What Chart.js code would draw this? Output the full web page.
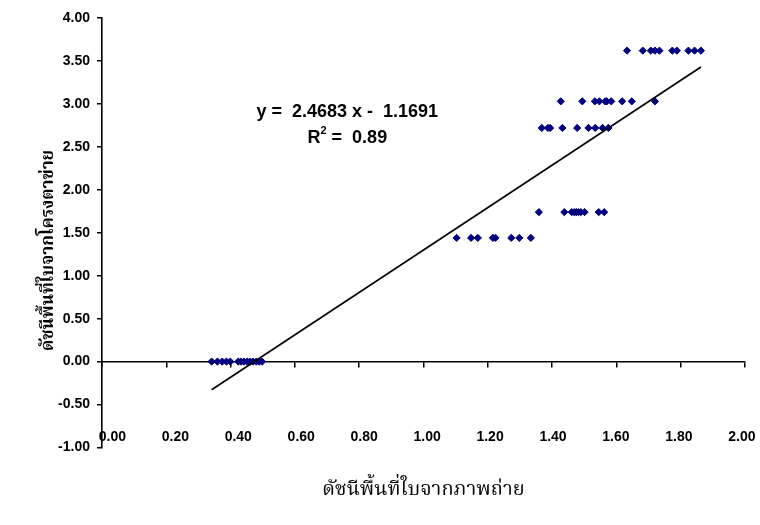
<!DOCTYPE html>
<html>
<head>
<meta charset="utf-8">
<script src="https://cdn.jsdelivr.net/npm/chart.js@4.4.1/dist/chart.umd.min.js"></script>
<style>
  html, body { margin: 0; padding: 0; background: #fff; }
  #wrap { width: 760px; height: 525px; }
</style>
</head>
<body>
<div id="wrap"><canvas id="chart" width="760" height="525"></canvas></div>
<script>
// ----------------------------------------------------------
// DATA (x = LAI from photo, y = LAI from grid, grouped by y level)
// ----------------------------------------------------------
const level0X   = [0.341, 0.359, 0.374, 0.387, 0.399, 0.424, 0.433, 0.442, 0.452, 0.461, 0.470, 0.480, 0.489, 0.498];
const level144X = [1.103, 1.148, 1.169, 1.216, 1.224, 1.273, 1.298, 1.334];
const level174X = [1.359, 1.438, 1.461, 1.469, 1.475, 1.482, 1.489, 1.501, 1.545, 1.562];
const level272X = [1.368, 1.387, 1.394, 1.432, 1.478, 1.513, 1.534, 1.557, 1.575];
const level303X = [1.427, 1.494, 1.533, 1.547, 1.565, 1.570, 1.584, 1.618, 1.648, 1.720];
const level362X = [1.633, 1.682, 1.707, 1.720, 1.734, 1.774, 1.788, 1.824, 1.843, 1.863];

const yLevels = [0, 1.44, 1.74, 2.72, 3.03, 3.62];
const xGroups = [level0X, level144X, level174X, level272X, level303X, level362X];

// trend line from the chart's equation
const trendSlope = 2.4683;
const trendIntercept = -1.1691;
const rSquared = "0.89";

const xTitle = "ดัชนีพื้นที่ใบจากภาพถ่าย";
const yTitle = "ดัชนีพื้นที่ใบจากโครงตาข่าย";

// ----------------------------------------------------------
// BUILD POINTS
// ----------------------------------------------------------
const points = [];
xGroups.forEach((xs, i) => {
    xs.forEach(x => points.push({ x: x, y: yLevels[i] }));
});

const allX = points.map(p => p.x);
const xMin = Math.min(...allX);
const xMax = Math.max(...allX);
const trendPoints = [
    { x: xMin, y: trendSlope * xMin + trendIntercept },
    { x: xMax, y: trendSlope * xMax + trendIntercept }
];

const tickFont = { family: "Arial, 'Liberation Sans', sans-serif", size: 14, weight: "bold" };
const thaiFamily = "'Noto Serif Thai', 'Noto Sans Thai', 'Tlwg Typo', serif";

// ----------------------------------------------------------
// EQUATION LABEL
// ----------------------------------------------------------
const equationLabel = {
    id: "equationLabel",
    afterDatasetsDraw(chart) {
        const ctx = chart.ctx;
        const sx = chart.scales.x, sy = chart.scales.y;
        const cx = sx.getPixelForValue(0.763);
        const y1 = sy.getPixelForValue(2.91);
        const y2 = sy.getPixelForValue(2.60);
        const sign = trendIntercept < 0 ? "-" : "+";
        const line1 = "y =  " + trendSlope.toFixed(4) + " x " + sign + "  " + Math.abs(trendIntercept).toFixed(4);

        ctx.save();
        ctx.fillStyle = "#000";
        ctx.textBaseline = "middle";
        ctx.font = "bold 18px Arial, 'Liberation Sans', sans-serif";
        ctx.textAlign = "center";
        ctx.fillText(line1, cx, y1);

        // R² line with superscript
        ctx.textAlign = "left";
        const rW = ctx.measureText("R").width;
        const tail = " =  " + rSquared;
        const tailW = ctx.measureText(tail).width;
        ctx.font = "bold 11px Arial, 'Liberation Sans', sans-serif";
        const supW = ctx.measureText("2").width;
        const total = rW + supW + tailW;
        let x0 = cx - total / 2;
        ctx.font = "bold 18px Arial, 'Liberation Sans', sans-serif";
        ctx.fillText("R", x0, y2);
        ctx.font = "bold 11px Arial, 'Liberation Sans', sans-serif";
        ctx.fillText("2", x0 + rW, y2 - 7);
        ctx.font = "bold 18px Arial, 'Liberation Sans', sans-serif";
        ctx.fillText(tail, x0 + rW + supW, y2);
        ctx.restore();
    }
};

// ----------------------------------------------------------
// CHART
// ----------------------------------------------------------
const ctx = document.getElementById("chart").getContext("2d");
new Chart(ctx, {
    type: "scatter",
    data: {
        datasets: [
            {
                label: "trend",
                type: "line",
                data: trendPoints,
                borderColor: "#000",
                borderWidth: 1.6,
                pointRadius: 0,
                fill: false,
                order: 0
            },
            {
                label: "data",
                data: points,
                pointStyle: "rectRot",
                pointRadius: 3.6,
                backgroundColor: "#000080",
                borderColor: "#000080",
                borderWidth: 1,
                order: 1
            }
        ]
    },
    options: {
        responsive: false,
        animation: false,
        layout: { padding: { left: 0, right: 15, top: 18, bottom: 0 } },
        plugins: {
            legend: { display: false },
            tooltip: { enabled: false }
        },
        scales: {
            // axis line crossing at y = 0 with its tick marks
            x: {
                type: "linear",
                position: { y: 0 },
                min: 0,
                max: 2,
                ticks: { display: false, stepSize: 0.2 },
                grid: { drawOnChartArea: false, drawTicks: true, tickLength: 5, color: "#000", lineWidth: 1.5 },
                border: { display: true, color: "#000", width: 1.6 }
            },
            // tick labels in the bottom row, spread a little tighter than the ticks (as in the original)
            xTickLabels: {
                type: "linear",
                position: { y: 0 },
                min: -0.033,
                max: 2.01,
                ticks: {
                    stepSize: 0.2,
                    includeBounds: false,
                    padding: 67,
                    color: "#000",
                    font: tickFont,
                    maxRotation: 0,
                    autoSkip: false,
                    callback: v => Number(v).toFixed(2)
                },
                grid: { display: false, drawTicks: false },
                border: { display: false },
                afterFit: s => { s.paddingLeft = 14; s.paddingRight = 14; }
            },
            // bottom box only for the axis title
            xTitleAxis: {
                type: "linear",
                position: "bottom",
                min: 0,
                max: 2,
                ticks: { display: false },
                grid: { display: false, drawTicks: false },
                border: { display: false },
                title: { display: true, text: xTitle, color: "#000",
                         font: { family: thaiFamily, size: 20, weight: "normal" },
                         padding: { top: 0, bottom: 21 } },
                afterFit: s => { s.height = 77.5; }
            },
            y: {
                type: "linear",
                min: -1,
                max: 4,
                ticks: {
                    stepSize: 0.5,
                    padding: 7,
                    color: "#000",
                    font: tickFont,
                    callback: v => Number(v).toFixed(2)
                },
                grid: { drawOnChartArea: false, drawTicks: true, tickLength: 5, color: "#000", lineWidth: 1.5 },
                border: { display: true, color: "#000", width: 1.6 },
                title: { display: true, text: yTitle + "        ", color: "#000",
                         font: { family: thaiFamily, size: 17, weight: "bold" },
                         padding: { top: 40, bottom: 0 } },
                afterFit: s => { s.width = 102; }
            }
        }
    },
    plugins: [equationLabel]
});
</script>
</body>
</html>
